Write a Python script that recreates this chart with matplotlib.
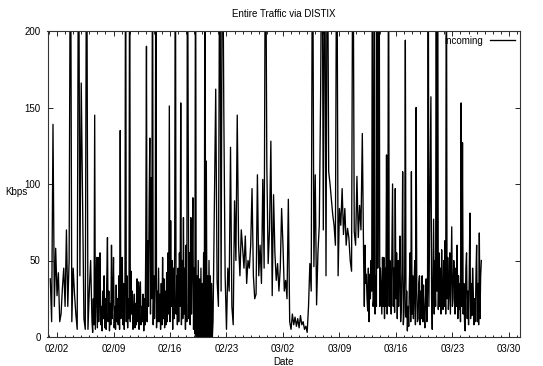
import numpy as np
import matplotlib
matplotlib.use('Agg')
import matplotlib.pyplot as plt
import matplotlib.dates as mdates

plt.rcParams['font.family'] = ['Liberation Sans', 'DejaVu Sans']

# incoming traffic (Kbps)
# segment A: every 4 h from 2009-02-01 04:00
seg_a = [38, 10, 139, 20, 58,
         27, 42, 10, 15, 32, 45,
         20, 70, 20, 50, 300, 10,
         45, 28, 15, 5, 300, 40,
         166, 90, 12, 5, 300, 5,
         30, 50]
# segment B: every 2 h from 2009-02-06 08:00
seg_b = [10, 3, 25, 8, 145, 5, 30, 52,
         6, 52, 10, 35, 55, 8, 20, 4, 30, 12, 40, 6,
         25, 5, 38, 65, 10, 30, 4, 22, 8, 60, 12, 28,
         52, 6, 20, 5, 34, 10, 25, 8, 40, 5, 135, 12,
         30, 52, 8, 35, 5, 28, 300, 10, 40, 6, 25, 12,
         300, 10, 43, 15, 30, 5, 15, 28, 6, 22, 8, 38,
         10, 36, 5, 30, 36, 8, 20, 10, 28, 4, 25, 8,
         63, 190, 10, 63, 20, 89, 130, 15, 104, 25, 300, 8,
         40, 12, 35, 300, 6, 30, 10, 45, 10, 28, 5, 35,
         8, 52, 12, 38, 6, 30, 8, 42, 10, 55, 15, 151,
         10, 76, 20, 50, 5, 45, 12, 60, 300, 15, 40, 8,
         45, 10, 55, 20, 153, 8, 50, 12, 78, 15, 45, 5,
         60, 10, 300, 140, 12, 55, 8, 78, 15, 50, 91, 5,
         45, 2, 300, 0, 40, 0, 50, 0, 38, 0, 45, 0,
         35, 0, 55, 0, 300, 0, 115, 0, 40, 0, 50, 0,
         40, 0, 35, 0]
# segment C: every 4 h from 2009-02-21 08:00
seg_c = [10, 84, 162, 37,
         20, 300, 30, 300, 149, 40,
         5, 45, 30, 124, 20, 8,
         89, 50, 145, 60, 40, 70,
         58, 45, 66, 35, 50, 45,
         60, 97, 40, 25, 28, 106,
         40, 60, 35, 103, 45, 300,
         112, 48, 70, 128, 27, 93,
         55, 37, 48, 30, 45, 84,
         60, 30, 37, 25, 90, 10,
         5, 15, 8, 13, 7, 12,
         6, 14, 8, 10, 5, 7,
         3, 20, 48, 30, 300, 46,
         106, 21, 55, 73, 158, 300,
         70, 300, 40, 300, 108, 100,
         90, 80, 73, 60, 300, 40,
         84, 73, 97, 67, 84, 60,
         71, 65, 50, 43, 300, 69,
         60, 105, 65, 86, 70, 133]
# segment D: every 2 h from 2009-03-12 00:00
seg_d = [50, 20, 60, 35, 41, 25, 17, 45, 10, 41, 25, 50,
         30, 300, 20, 25, 300, 15, 40, 20, 300, 45, 143, 300,
         20, 45, 30, 15, 52, 20, 52, 12, 45, 20, 119, 15,
         40, 300, 20, 50, 36, 15, 60, 100, 20, 45, 16, 97,
         25, 55, 12, 50, 20, 41, 66, 10, 20, 45, 108, 8,
         16, 40, 194, 13, 30, 4, 20, 7, 35, 55, 10, 108,
         15, 40, 12, 35, 50, 8, 150, 30, 10, 12, 35, 40,
         8, 30, 12, 40, 10, 34, 15, 6, 25, 38, 10, 30,
         300, 20, 64, 102, 157, 25, 5, 40, 77, 15, 50, 20,
         300, 30, 300, 18, 55, 20, 45, 15, 57, 25, 18, 50,
         20, 63, 15, 300, 25, 52, 18, 30, 55, 15, 45, 72,
         20, 25, 50, 40, 15, 45, 20, 60, 12, 40, 18, 35,
         10, 153, 20, 127, 15, 35, 10, 4, 45, 55, 12, 30,
         8, 40, 81, 12, 35, 14, 45, 30, 8, 25, 10, 40,
         60, 10, 35, 8, 68, 12, 40, 50]

series_label = "incoming"
title = "Entire Traffic via DISTIX"
x_label = "Date"
y_label = "Kbps"
y_ticks = [0, 50, 100, 150, 200]

h4 = np.timedelta64(4, 'h')
h2 = np.timedelta64(2, 'h')
times = np.concatenate([
    np.datetime64('2009-02-01T04:00') + np.arange(len(seg_a)) * h4,
    np.datetime64('2009-02-06T08:00') + np.arange(len(seg_b)) * h2,
    np.datetime64('2009-02-21T08:00') + np.arange(len(seg_c)) * h4,
    np.datetime64('2009-03-12T00:00') + np.arange(len(seg_d)) * h2,
])
values = seg_a + seg_b + seg_c + seg_d

W, H = 543, 366
fig = plt.figure(figsize=(W / 100, H / 100), dpi=100)
ax = fig.add_axes([47.5 / W, 1 - 337 / H, (520 - 47.5) / W, (337 - 31) / H])

ax.plot(times, values, color='black', lw=0.95, label=series_label)

ax.set_ylim(0, 200)
ax.set_yticks(y_ticks)
ax.set_xlim(np.datetime64('2009-01-31T19:40'), np.datetime64('2009-03-31T09:00'))
ax.xaxis.set_major_locator(mdates.WeekdayLocator(byweekday=mdates.MO))
ax.xaxis.set_minor_locator(mdates.DayLocator())
ax.xaxis.set_major_formatter(mdates.DateFormatter('%m/%d'))

ax.tick_params(which='both', direction='in', top=True, right=True, labelsize=7, colors='black')
ax.tick_params(which='major', length=3.5, width=0.6)
ax.tick_params(which='minor', length=1.8, width=0.6)
ax.tick_params(axis='x', pad=5)
ax.tick_params(axis='y', pad=5)
for s in ax.spines.values():
    s.set_linewidth(0.8)
    s.set_color('#333333')

fig.text(283.7 / W, 1 - 14 / H, title, ha='center', va='center', fontsize=7)
fig.text(16 / W, 1 - 192 / H, y_label, ha='center', va='center', fontsize=7)
fig.text(283.7 / W, 1 - 362 / H, x_label, ha='center', va='center', fontsize=7)

ax.legend(loc='upper right', frameon=False, markerfirst=False, handlelength=2.6,
          handletextpad=0.7, borderaxespad=0.2, borderpad=0.3, fontsize=7)

fig.savefig('out.png', dpi=100)
